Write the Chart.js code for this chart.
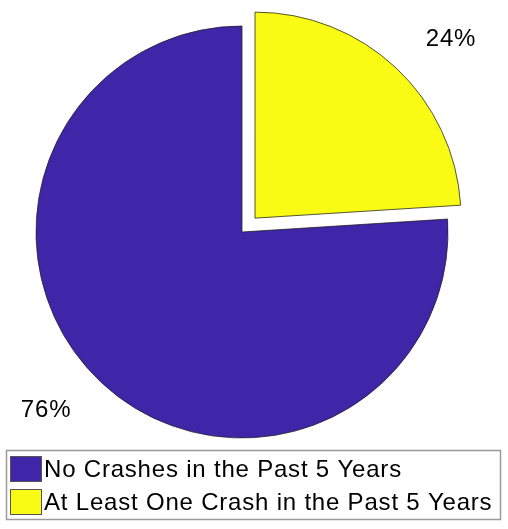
<!DOCTYPE html>
<html>
<head>
<meta charset="utf-8">
<script src="https://cdn.jsdelivr.net/npm/chart.js@4/dist/chart.umd.min.js"></script>
<style>
  html, body { margin: 0; padding: 0; background: #ffffff; }
  #wrap { width: 508px; height: 529px; position: relative; }
</style>
</head>
<body>
<div id="wrap"><canvas id="c" width="508" height="529"></canvas></div>
<script>
// ---- data ----
const categories = ['No Crashes in the Past 5 Years', 'At Least One Crash in the Past 5 Years'];
const shares = [76, 24];
const sliceColors = ['#3E26A8', '#F9FB15'];
const exploded = [false, true];

const FONT = '"Liberation Sans", Arial, Helvetica, sans-serif';
const total = shares.reduce((a, b) => a + b, 0);

// percentage labels outside each slice
const pctLabels = {
  id: 'pctLabels',
  afterDatasetsDraw(chart) {
    const ctx = chart.ctx;
    const meta = chart.getDatasetMeta(0);
    ctx.save();
    ctx.font = '24px ' + FONT;
    try { ctx.letterSpacing = '0.8px'; } catch (e) {}
    ctx.fillStyle = '#000';
    ctx.textAlign = 'center';
    ctx.textBaseline = 'middle';
    meta.data.forEach((arc, i) => {
      const p = arc.getProps(['x', 'y', 'startAngle', 'endAngle', 'outerRadius'], true);
      const mid = (p.startAngle + p.endAngle) / 2;
      const shift = (arc.options.offset || 0) / 4;
      const a = mid + 4.5 * Math.PI / 180;
      const r = p.outerRadius * 1.286;
      const x = p.x + Math.cos(mid) * shift + Math.cos(a) * r;
      const y = p.y + Math.sin(mid) * shift + Math.sin(a) * r;
      ctx.fillText(Math.round(shares[i] / total * 100) + '%', x, y);
    });
    ctx.restore();
  }
};

// boxed legend below the pie
const boxedLegend = {
  id: 'boxedLegend',
  afterDraw(chart) {
    const ctx = chart.ctx;
    ctx.save();
    ctx.fillStyle = '#ffffff';
    ctx.strokeStyle = '#9a9a9a';
    ctx.lineWidth = 1.5;
    ctx.fillRect(6.5, 450.5, 494, 69);
    ctx.strokeRect(6.5, 450.5, 494, 69);
    ctx.font = '24px ' + FONT;
    try { ctx.letterSpacing = '0.8px'; } catch (e) {}
    ctx.textAlign = 'left';
    ctx.textBaseline = 'alphabetic';
    categories.forEach((label, i) => {
      const top = 456 + i * 33;
      ctx.fillStyle = sliceColors[i];
      ctx.fillRect(10, top, 32, 26);
      ctx.lineWidth = 1;
      ctx.strokeStyle = '#555555';
      ctx.strokeRect(10.5, top + 0.5, 31, 25);
      ctx.fillStyle = '#000000';
      ctx.fillText(label, 44, top + 21);
    });
    ctx.restore();
  }
};

new Chart(document.getElementById('c'), {
  type: 'pie',
  data: {
    labels: categories,
    datasets: [{
      data: shares,
      backgroundColor: sliceColors,
      borderColor: 'rgba(30,30,30,0.75)',
      borderWidth: 1,
      offset: exploded.map(e => e ? 76 : 0)
    }]
  },
  options: {
    responsive: false,
    animation: false,
    rotation: shares[1] / total * 360,
    radius: 206,
    layout: { padding: { left: 0, right: 24, top: 0, bottom: 65 } },
    plugins: {
      legend: { display: false },
      tooltip: { enabled: false },
      title: { display: false }
    }
  },
  plugins: [pctLabels, boxedLegend]
});
</script>
</body>
</html>
